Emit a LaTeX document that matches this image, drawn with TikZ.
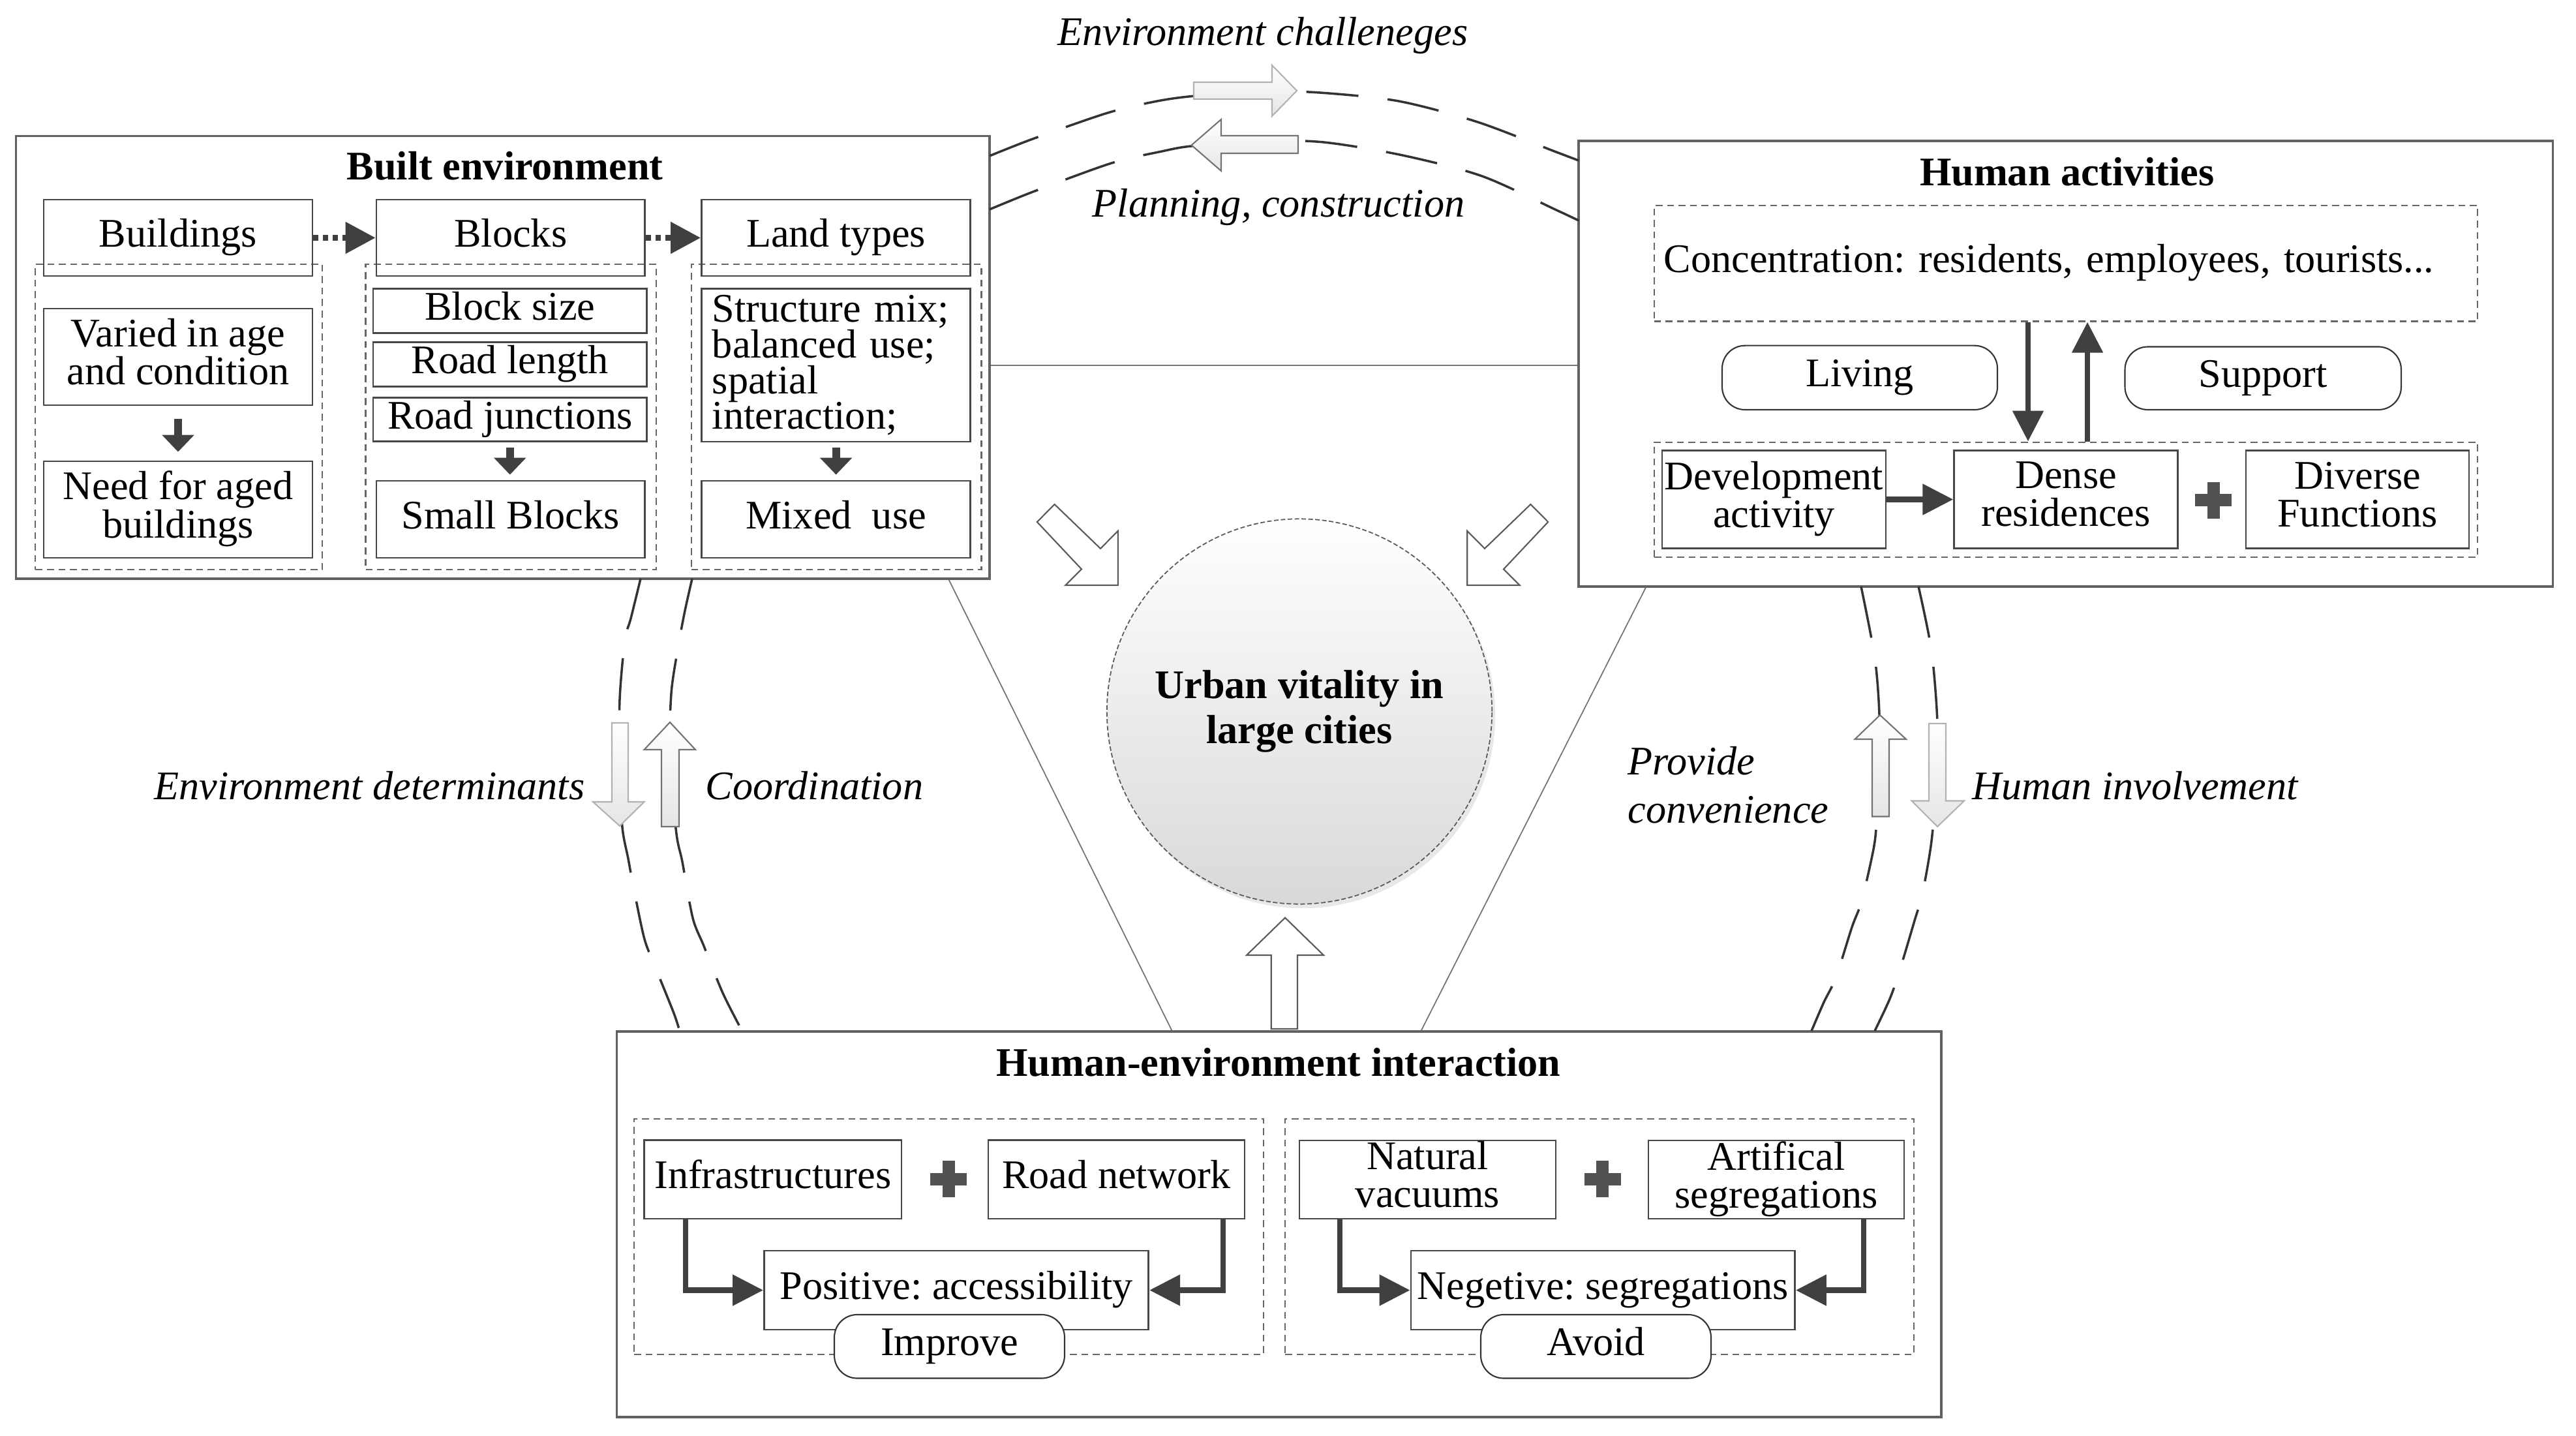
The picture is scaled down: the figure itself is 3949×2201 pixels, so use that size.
\documentclass[tikz,border=0pt]{standalone}
\usepackage{fontspec}
\setmainfont{Liberation Serif}
\usetikzlibrary{arrows.meta,calc}
\frenchspacing
\newcommand\myfs{\fontsize{17.7pt}{16.5pt}\selectfont}
\newcommand\mystrut{\rule[-4.5pt]{0pt}{17pt}}
% \bnode{style}{name}{x1}{y1}{x2}{y2}{text}
\newcommand\bnode[7]{%
  \pgfmathsetmacro\mybw{(#5-#3)*0.01}%
  \pgfmathsetmacro\mybh{(#6-#4)*0.01}%
  \node[#1, minimum width=\mybw cm, minimum height=\mybh cm] (#2) at ({(#3+#5)/2},{(#4+#6)/2}) {#7};}
\begin{document}
\begin{tikzpicture}[x=0.01cm,y=-0.01cm, font=\myfs,
  outer/.style={draw=black!62, line width=0.9pt, inner sep=0pt},
  bx/.style={draw=black!72, line width=0.8pt, inner sep=0pt, align=center,
             execute at begin node=\mystrut, execute at end node=\mystrut},
  dgrp/.style={draw=black!60, line width=0.6pt, dash pattern=on 3pt off 2pt, inner sep=0pt},
  rbox/.style={draw=black!80, line width=0.6pt, rounded corners=0.35cm, fill=white, inner sep=0pt, align=center,
             execute at begin node=\mystrut, execute at end node=\mystrut},
  fat/.style={draw=black!75, line width=2.4pt, -{Triangle[width=0.46cm,length=0.47cm]}},
  chunk/.style={draw=black!75, line width=3.4pt, -{Triangle[width=0.48cm,length=0.26cm]}},
  dotarr/.style={draw=black!75, line width=2.4pt, dash pattern=on 0.08cm off 0.07cm, -{Triangle[width=0.47cm,length=0.46cm]}},
  arcl/.style={draw=black!80, line width=1pt, dash pattern=on 0.8cm off 0.45cm},
  hollow/.style={draw=black!65, line width=0.6pt, fill=white},
  lightarr/.style={draw=black!30, line width=0.6pt, top color=white, bottom color=black!10},
  medarr/.style={draw=black!55, line width=0.6pt, top color=white, bottom color=black!10},
  conn/.style={draw=black!55, line width=0.5pt},
  ttl/.style={font=\myfs\bfseries, inner sep=0pt},
  lbl/.style={font=\myfs\itshape, inner sep=0pt},
  plussign/.pic={\fill[black!68] (-28,-9.5) rectangle (28,9.5); \fill[black!68] (-9.5,-28) rectangle (9.5,28);}
]
\useasboundingbox (0,0) rectangle (3949,2201);

% ---------------- Built environment ----------------
\bnode{outer}{be}{24.7}{208.5}{1517}{887}{}
\node[ttl, anchor=base] (tbe) at (774,276) {Built environment};
\bnode{dgrp}{g1}{54.4}{405}{494}{873.4}{}
\bnode{dgrp}{g2}{560.5}{405}{1006}{873.4}{}
\bnode{dgrp}{g3}{1059.7}{405}{1504.5}{873.4}{}
\bnode{bx}{bld}{67}{306}{479}{423}{Buildings}
\bnode{bx}{blk}{577}{306}{988.5}{423}{Blocks}
\bnode{bx}{lnd}{1075.5}{306}{1487.7}{423}{Land types}
\bnode{bx}{var}{67}{473}{479}{621}{Varied in age\\and condition}
\bnode{bx}{need}{67}{707}{479}{855}{Need for aged\\buildings}
\bnode{bx}{bsz}{572}{442.7}{991.5}{510.6}{Block size}
\bnode{bx}{rl}{572}{524.4}{991.5}{592.4}{Road length}
\bnode{bx}{rj}{572}{609.4}{991.5}{676.9}{Road junctions}
\bnode{bx}{sb}{577}{737}{988.5}{855}{Small Blocks}
\node[draw=black!72, line width=0.8pt, minimum width=4.122cm, minimum height=2.342cm, text width=3.792cm, align=left,
      inner xsep=0.165cm, inner ysep=0.05cm, font=\fontsize{17.7pt}{15.6pt}\selectfont] (smx) at (1281.6,559.8)
      {Structure mix;\\balanced use;\\spatial\\interaction;};
\bnode{bx}{mix}{1075.5}{737}{1487.7}{855}{Mixed\ \ use}
\draw[dotarr] (bld.east) -- (blk.west);
\draw[dotarr] (blk.east) -- (lnd.west);
\draw[chunk, shorten <=0.2cm, shorten >=0.13cm] (var.south) -- (need.north);
\draw[chunk, shorten <=0.08cm, shorten >=0.08cm] (rj.south) -- (rj.south |- sb.north);
\draw[chunk, shorten <=0.08cm, shorten >=0.08cm] (smx.south) -- (mix.north);

% ---------------- Human activities ----------------
\bnode{outer}{ha}{2420}{216}{3913.5}{899}{}
\node[ttl, anchor=base] (tha) at (3168.6,285) {Human activities};
\node[dgrp, minimum width=12.62cm, minimum height=1.775cm, text width=12.32cm, align=left, inner sep=0.15cm] (conc) at (3167,403.75) {\mystrut Concentration: residents, employees, tourists...};
\bnode{dgrp}{lowd}{2536}{677.6}{3798}{854}{}
\bnode{rbox}{liv}{2640}{529.7}{3062}{628}{Living}
\bnode{rbox}{sup}{3257.5}{531.5}{3681}{628}{Support}
\bnode{bx}{dev}{2548}{690.4}{2891}{840.6}{Development\\activity}
\bnode{bx}{den}{2995.7}{690.4}{3338.5}{840.6}{Dense\\residences}
\bnode{bx}{div}{3443}{690.4}{3785}{840.6}{Diverse\\Functions}
\draw[fat] (dev.east) -- (den.west);
\pic at (3393,767) {plussign};
\draw[fat] ([xshift=-0.58cm]conc.south) -- ([xshift=-0.58cm]lowd.north);
\draw[fat] ([xshift=0.33cm]lowd.north) -- ([xshift=0.33cm]conc.south);

% ---------------- Human-environment interaction ----------------
\bnode{outer}{hei}{945.6}{1581}{2976}{2172}{}
\node[ttl, anchor=base] (thei) at (1960,1649.5) {Human-environment interaction};
\bnode{dgrp}{g4}{972}{1715}{1937}{2076}{}
\bnode{dgrp}{g5}{1970}{1715}{2934}{2076}{}
\bnode{bx}{inf}{987.7}{1747.7}{1382}{1868}{Infrastructures}
\bnode{bx}{rdn}{1515}{1747.7}{1908}{1868}{Road network}
\bnode{bx}{pos}{1171.5}{1917}{1760.7}{2038}{Positive: accessibility}
\bnode{rbox}{imp}{1279}{2015}{1632}{2112.5}{Improve}
\pic at (1454,1807) {plussign};
\bnode{bx}{nat}{1992}{1748}{2385}{1868}{Natural\\vacuums}
\bnode{bx}{art}{2527}{1748}{2919}{1868}{Artifical\\segregations}
\bnode{bx}{neg}{2163}{1917}{2751.5}{2038}{Negetive: segregations}
\bnode{rbox}{avd}{2270}{2015}{2623}{2112.5}{Avoid}
\pic at (2456.5,1807) {plussign};
\draw[fat] ([xshift=-1.34cm]inf.south) |- (pos.west);
\draw[fat] ([xshift=1.635cm]rdn.south) |- (pos.east);
\draw[fat] ([xshift=-1.345cm]nat.south) |- (neg.west);
\draw[fat] ([xshift=1.34cm]art.south) |- (neg.east);

% ---------------- connectors ----------------
\coordinate (hl) at (0,560);
\draw[conn] (be.east |- hl) -- (ha.west |- hl);
\draw[conn] ($(be.south east)+(-64,0)$) -- ($(hei.north west)+(852.4,0)$);
\draw[conn] ($(ha.south west)+(104.5,0)$) -- ($(hei.north west)+(1234.8,0)$);

% ---------------- centre ----------------
\fill[black!9] (1997,1097) circle (2.95cm);
\node[circle, minimum size=5.9cm, inner sep=0pt, top color=white, bottom color=black!15,
      draw=black!65, line width=0.5pt, dash pattern=on 2pt off 1pt, align=center,
      font=\fontsize{17.7pt}{19.6pt}\selectfont\bfseries] (uv) at (1992,1090.5) {Urban vitality in\\large cities};
\draw[hollow] (1589.8,800) -- (1616.6,773) -- (1687,840.8) -- (1713.8,813.8) -- (1713.8,897) -- (1633.4,897) -- (1658,872.4) -- cycle;
\draw[hollow] (2373.2,800) -- (2346.4,773) -- (2276,840.8) -- (2249.2,813.8) -- (2249.2,897) -- (2329.6,897) -- (2305,872.4) -- cycle;
\draw[hollow] (1948.7,1577) -- (1948.7,1464) -- (1911,1464) -- (1970,1406.6) -- (2029,1464) -- (1989,1464) -- (1989,1577) -- cycle;

% ---------------- dashed arcs ----------------
\draw[arcl] plot[smooth] coordinates {(1517,239) (1583,213) (1698,173) (1774,155) (1832,147) (1930,140) (2023,142) (2144,155) (2265,187) (2383,232) (2420,246)};
\draw[arcl] plot[smooth] coordinates {(1517,321) (1586,293) (1704,250) (1781,232) (1826,224) (1930,216) (2029,218) (2150,238) (2272,270) (2386,322) (2420,338)};
\draw[arcl] plot[smooth] coordinates {(982,887) (967,948) (958,981) (950,1072) (950,1180) (954,1268) (963,1316) (971,1359) (987.6,1438) (1004,1481) (1033,1553) (1042,1581)};
\draw[arcl] plot[smooth] coordinates {(1061,887) (1050,936) (1041,984) (1029,1063) (1027,1170) (1037,1278) (1046,1321) (1062,1407) (1079,1450) (1108,1522) (1137,1579)};
\draw[arcl] plot[smooth] coordinates {(2853,899) (2874,1008) (2881,1095) (2880,1170) (2877,1253) (2872.5,1299) (2854,1380.6) (2839,1421) (2814.5,1498) (2796,1536) (2777,1580)};
\draw[arcl] plot[smooth] coordinates {(2941,899) (2961,998) (2970,1108) (2968,1200) (2961,1289) (2947,1370) (2935,1411) (2912,1488) (2897,1531) (2874,1580)};

% ---------------- light flow arrows ----------------
\draw[lightarr] (1830,126) -- (1950,126) -- (1950,100) -- (1988,139) -- (1950,178) -- (1950,152) -- (1830,152) -- cycle;
\draw[medarr] (1990,208) -- (1872,208) -- (1872,183) -- (1826.5,222.5) -- (1872,262) -- (1872,235) -- (1990,235) -- cycle;
\draw[lightarr] (938,1108) -- (963,1108) -- (963,1229) -- (987.6,1229) -- (950,1266) -- (909,1229) -- (938,1229) -- cycle;
\draw[medarr] (1014,1267) -- (1014,1149) -- (987.6,1149) -- (1027,1107) -- (1066,1149) -- (1041,1149) -- (1041,1267) -- cycle;
\draw[medarr] (2870,1251.5) -- (2870,1133) -- (2843.5,1133) -- (2882,1096) -- (2922,1133) -- (2896,1133) -- (2896,1251.5) -- cycle;
\draw[lightarr] (2957,1109) -- (2983,1109) -- (2983,1227.5) -- (3011,1227.5) -- (2970,1267) -- (2930.6,1227.5) -- (2957,1227.5) -- cycle;

% ---------------- labels ----------------
\node[lbl, anchor=base] (lec) at (1936,70) {Environment challeneges};
\node[lbl, anchor=base] (lpc) at (1960,333) {Planning, construction};
\node[lbl, anchor=base] (led) at (566.5,1225) {Environment determinants};
\node[lbl, anchor=base] (lco) at (1248.5,1225) {Coordination};
\node[lbl, anchor=west, align=left, font=\fontsize{17.7pt}{21pt}\selectfont\itshape] (lpv) at (2495,1203) {Provide\\convenience};
\node[lbl, anchor=base] (lhi) at (3273,1225) {Human involvement};
\end{tikzpicture}
\end{document}
